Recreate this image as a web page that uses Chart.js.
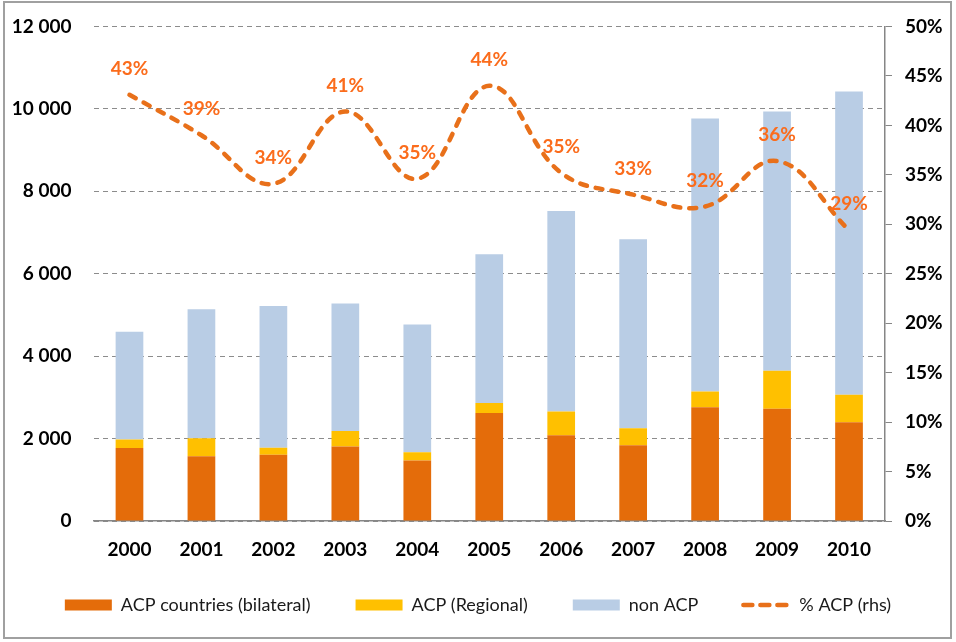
<!DOCTYPE html>
<html>
<head>
<meta charset="utf-8">
<title>ACP</title>
<script src="https://cdn.jsdelivr.net/npm/chart.js@4/dist/chart.umd.min.js"></script>
<style>
  html, body { margin: 0; padding: 0; background: #fff; }
  #wrap { width: 956px; height: 642px; position: relative; }
</style>
</head>
<body>
<div id="wrap"><canvas id="chartAcp"></canvas></div>
<script>
// Years on the x axis
const years = ["2000", "2001", "2002", "2003", "2004", "2005", "2006", "2007", "2008", "2009", "2010"];

// Stacked amounts (left axis)
const acpBilateral = [1770, 1570, 1605, 1805, 1467, 2620, 2080, 1840, 2760, 2725, 2395];
const acpRegional  = [ 210,  440,  170,  380,  200,  245,  580,  410,  380,  920,  670];
const nonAcp       = [2610, 3130, 3440, 3095, 3100, 3610, 4860, 4590, 6625, 6290, 7355];

// Share of ACP in the total, in % (right axis)
const pctAcp = [43.1, 39.0, 34.1, 41.4, 34.6, 44.0, 35.2, 33.0, 31.8, 36.4, 29.4];

// Axis ranges
const leftMax = 12000, leftStep = 2000;
const rightMax = 50, rightStep = 5;

const FONT = "Lato, 'Open Sans', sans-serif";
const AXIS_GREY = "#868686";
const LINE_ORANGE = "#e8701a";

// "12000" -> "12 000"
const spaced = v => String(v).replace(/\B(?=(\d{3})+(?!\d))/g, " ");

// White background and thin grey frame around the whole figure
const framePlugin = {
  id: "frame",
  beforeDraw(chart) {
    const { ctx, width, height } = chart;
    ctx.save();
    ctx.fillStyle = "#fff";
    ctx.fillRect(0, 0, width, height);
    ctx.restore();
  },
  afterDraw(chart) {
    const ctx = chart.ctx;
    ctx.save();
    ctx.strokeStyle = "#a0a0a0";
    ctx.lineWidth = 2;
    ctx.strokeRect(4, 2, 947, 636);
    ctx.restore();
  },
};

// Percentage labels above the line points
const pctLabels = {
  id: "pctLabels",
  afterDatasetsDraw(chart) {
    const idx = chart.data.datasets.findIndex(d => d.type === "line");
    const meta = chart.getDatasetMeta(idx);
    const ctx = chart.ctx;
    ctx.save();
    ctx.font = `bold 19px ${FONT}`;
    ctx.fillStyle = "#fb6c1c";
    ctx.textAlign = "center";
    ctx.textBaseline = "middle";
    meta.data.forEach((pt, i) => {
      ctx.fillText(Math.round(pctAcp[i]) + "%", pt.x, pt.y - 26);
    });
    ctx.restore();
  },
};

const tickFont = { family: FONT, size: 19, weight: "bold" };

new Chart(document.getElementById("chartAcp"), {
  type: "bar",
  data: {
    labels: years,
    datasets: [
      {
        label: "ACP countries (bilateral)",
        data: acpBilateral,
        backgroundColor: "#e46c0a",
        borderWidth: 0,
        stack: "acp",
      },
      {
        label: "ACP (Regional)",
        data: acpRegional,
        backgroundColor: "#ffc000",
        borderWidth: 0,
        stack: "acp",
      },
      {
        label: "non ACP",
        data: nonAcp,
        backgroundColor: "#b9cde5",
        borderWidth: 0,
        stack: "acp",
      },
      {
        type: "line",
        label: "% ACP (rhs)",
        data: pctAcp,
        yAxisID: "y2",
        borderColor: LINE_ORANGE,
        borderWidth: 4.5,
        borderDash: [7, 9],
        borderCapStyle: "round",
        pointRadius: 0,
        fill: false,
        tension: 0.4,
        order: -1,
      },
    ],
  },
  options: {
    responsive: true,
    maintainAspectRatio: false,
    animation: false,
    categoryPercentage: 1,
    barPercentage: 0.385,
    layout: { padding: { top: 26.5, left: 0, right: 0, bottom: 18 } },
    plugins: {
      tooltip: { enabled: false },
      legend: {
        position: "bottom",
        labels: {
          color: "#1a1a1a",
          font: { family: FONT, size: 18 },
          usePointStyle: true,
          pointStyleWidth: 47,
          boxHeight: 11,
          padding: 45,
          sort: (a, b) => a.datasetIndex - b.datasetIndex,
          generateLabels: chart => {
            const items = Chart.defaults.plugins.legend.labels.generateLabels(chart);
            items.forEach(it => {
              const isLine = chart.data.datasets[it.datasetIndex].type === "line";
              it.pointStyle = isLine ? "line" : "rect";
              if (isLine) {
                it.strokeStyle = LINE_ORANGE;
                it.lineWidth = 4.5;
                it.lineDash = [9, 8];
                it.lineCap = "round";
              }
            });
            return items;
          },
        },
      },
    },
    scales: {
      x: {
        stacked: true,
        grid: { display: false, drawTicks: false },
        border: { display: true, color: AXIS_GREY, width: 1.5 },
        // mirrored with a negative padding so the year labels are not clipped
        // to the (short) axis box sitting above the legend
        ticks: { color: "#000", font: tickFont, mirror: true, padding: -40 },
        afterFit: s => { s.height = 30; },
      },
      y: {
        stacked: true,
        min: 0,
        max: leftMax,
        ticks: {
          stepSize: leftStep,
          color: "#000",
          font: tickFont,
          padding: 0,
          callback: v => spaced(v),
        },
        // invisible tick marks keep the labels away from the plot
        // without padding the top of the chart area
        grid: { color: "#8c8c8c", lineWidth: 1, drawTicks: true, tickLength: 22, tickColor: "rgba(0,0,0,0)" },
        border: { display: false, dash: [5, 4] },
        afterFit: s => { s.width = 93.5; },
      },
      y2: {
        position: "right",
        min: 0,
        max: rightMax,
        ticks: {
          stepSize: rightStep,
          color: "#000",
          font: tickFont,
          padding: 13,
          callback: v => v + "%",
        },
        grid: { drawOnChartArea: false, drawTicks: true, tickLength: 7, tickColor: AXIS_GREY, color: AXIS_GREY },
        border: { display: true, color: AXIS_GREY, width: 1.5 },
        afterFit: s => { s.width = 71; },
      },
    },
  },
  plugins: [framePlugin, pctLabels],
});
</script>
</body>
</html>
